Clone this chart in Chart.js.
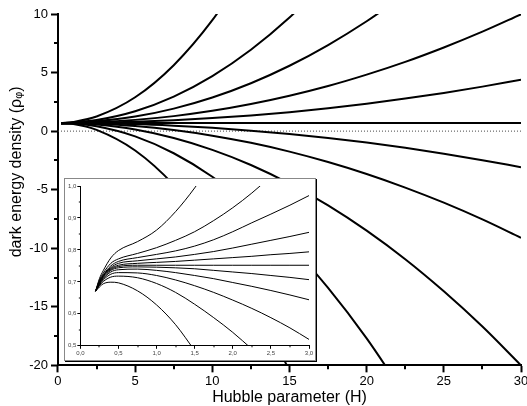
<!DOCTYPE html>
<html>
<head>
<meta charset="utf-8">
<script src="https://cdn.jsdelivr.net/npm/chart.js@4"></script>
<style>
  html, body { margin: 0; padding: 0; background: #fff; overflow: hidden; }
  #wrap { position: relative; width: 527px; height: 406px; overflow: hidden; }
  #main { position: absolute; left: 0; top: 0; }
  #insetBox { position: absolute; left: 64px; top: 178px; width: 250px; height: 181px;
              background: #fff; border: 1px solid #888; box-shadow: 1px 1px 0 #000; }
</style>
</head>
<body>
<div id="wrap">
  <canvas id="main" width="545" height="406"></canvas>
  <div id="insetBox"><canvas id="inset" width="250" height="181"></canvas></div>
</div>
<script>
// main panel: H values and rho_phi for each curve (top to bottom)
const mainH = [0.2, 1, 2.5, 5, 7.5, 10, 12.5, 15, 17.5, 20, 22.5, 25, 27.5, 30];
const rho1  = [0.67, 0.79, 1.25, 2.89, 5.63, 9.47, 14.4, null, null, null, null, null, null, null];
const rho2  = [0.67, 0.74, 0.95, 1.70, 2.95, 4.70, 6.95, 9.70, 12.95, null, null, null, null, null];
const rho3  = [0.67, 0.72, 0.84, 1.24, 1.92, 2.87, 4.09, 5.58, 7.35, 9.38, 11.69, null, null, null];
const rho4  = [0.67, 0.71, 0.76, 0.96, 1.28, 1.73, 2.31, 3.02, 3.85, 4.82, 5.91, 7.14, 8.49, 9.97];
const rho5  = [0.67, 0.70, 0.73, 0.80, 0.93, 1.11, 1.34, 1.62, 1.96, 2.34, 2.78, 3.26, 3.80, 4.39];
const rho6  = [0.67, 0.70, 0.70, 0.70, 0.70, 0.70, 0.70, 0.70, 0.70, 0.70, 0.70, 0.70, 0.70, 0.70];
const rho7  = [0.67, 0.70, 0.67, 0.60, 0.46, 0.28, 0.04, -0.25, -0.59, -0.98, -1.43, -1.93, -2.48, -3.08];
const rho8  = [0.67, 0.69, 0.63, 0.43, 0.09, -0.39, -1.00, -1.75, -2.64, -3.66, -4.82, -6.11, -7.54, -9.11];
const rho9  = [0.67, 0.68, 0.56, 0.13, -0.59, -1.60, -2.89, -4.48, -6.34, -8.50, -10.94, -13.68, -16.69, -20.00];
const rho10 = [0.67, 0.65, 0.41, -0.45, -1.89, -3.90, -6.49, -9.65, -13.39, -17.70, -22.59, null, null, null];
const rho11 = [0.67, 0.61, 0.11, -1.65, -4.59, -8.70, -13.99, -20.45, null, null, null, null, null, null];
const mainCurves = [rho1, rho2, rho3, rho4, rho5, rho6, rho7, rho8, rho9, rho10, rho11];

// inset panel: small H
const insetH = [0.2, 0.25, 0.3, 0.4, 0.5, 0.75, 1.0, 1.25, 1.5, 1.75, 2.0, 2.25, 2.5, 2.75, 3.0];
const inA = [0.671, 0.710, 0.735, 0.775, 0.798, 0.826, 0.862, 0.920, 0.994, 1.080, null, null, null, null, null];
const inB = [0.671, 0.705, 0.727, 0.758, 0.772, 0.789, 0.807, 0.830, 0.857, 0.892, 0.932, 0.978, 1.030, null, null];
const inC = [0.671, 0.703, 0.722, 0.750, 0.764, 0.776, 0.786, 0.797, 0.812, 0.832, 0.857, 0.885, 0.912, 0.940, 0.970];
const inD = [0.671, 0.700, 0.720, 0.745, 0.758, 0.766, 0.772, 0.778, 0.786, 0.795, 0.806, 0.818, 0.830, 0.842, 0.855];
const inE = [0.671, 0.698, 0.718, 0.742, 0.752, 0.758, 0.761, 0.764, 0.768, 0.772, 0.776, 0.780, 0.785, 0.789, 0.794];
const inF = [0.671, 0.696, 0.716, 0.739, 0.748, 0.752, 0.752, 0.752, 0.752, 0.752, 0.752, 0.752, 0.752, 0.752, 0.752];
const inG = [0.671, 0.694, 0.713, 0.736, 0.744, 0.747, 0.746, 0.744, 0.741, 0.736, 0.731, 0.726, 0.720, 0.714, 0.707];
const inH = [0.671, 0.692, 0.710, 0.731, 0.738, 0.740, 0.736, 0.729, 0.720, 0.710, 0.698, 0.686, 0.673, 0.659, 0.644];
const inI = [0.671, 0.690, 0.706, 0.724, 0.729, 0.728, 0.720, 0.706, 0.688, 0.667, 0.643, 0.617, 0.588, 0.556, 0.520];
const inJ = [0.671, 0.688, 0.701, 0.715, 0.718, 0.713, 0.695, 0.667, 0.630, 0.588, 0.542, 0.490, null, null, null];
const inK = [0.671, 0.684, 0.694, 0.699, 0.697, 0.672, 0.628, 0.566, 0.485, null, null, null, null, null, null];
const insetCurves = [inA, inB, inC, inD, inE, inF, inG, inH, inI, inJ, inK];

const FONT = 'Liberation Sans, Arial, Helvetica, sans-serif';

function toPoints(xs, ys) {
  return xs.map((x, i) => ({ x: x, y: ys[i] }));
}

// draws the short unlabeled ticks between the labeled ones
const minorTicks = {
  id: 'minorTicks',
  afterDraw(chart, args, opts) {
    const ctx = chart.ctx;
    const xs = chart.scales.x, ys = chart.scales.y;
    ctx.save();
    ctx.strokeStyle = '#000';
    ctx.lineWidth = opts.width;
    xs.ticks.forEach(t => {
      if (t.label !== '') return;
      const px = Math.round(xs.getPixelForValue(t.value));
      ctx.beginPath(); ctx.moveTo(px, xs.top); ctx.lineTo(px, xs.top + opts.len); ctx.stroke();
    });
    ys.ticks.forEach(t => {
      if (t.label !== '') return;
      const py = Math.round(ys.getPixelForValue(t.value));
      ctx.beginPath(); ctx.moveTo(ys.right, py); ctx.lineTo(ys.right - opts.len, py); ctx.stroke();
    });
    ctx.restore();
  }
};

const majorOnly = c => (c.tick && c.tick.label === '') ? 'rgba(0,0,0,0)' : '#000';

const mainSets = mainCurves.map(ys => ({
  data: toPoints(mainH, ys),
  borderColor: '#000', borderWidth: 2, pointRadius: 0,
  cubicInterpolationMode: 'monotone', fill: false
}));
mainSets.push({
  data: [{ x: 0, y: 0 }, { x: 30, y: 0 }],
  borderColor: '#444', borderWidth: 1, borderDash: [1, 2], pointRadius: 0, fill: false
});

new Chart(document.getElementById('main'), {
  type: 'line',
  data: { datasets: mainSets },
  options: {
    responsive: false,
    animation: false,
    layout: { padding: { left: 0, right: 24, top: 14, bottom: 0 } },
    plugins: { legend: { display: false }, tooltip: { enabled: false }, minorTicks: { len: 4, width: 2 } },
    scales: {
      x: {
        type: 'linear', min: 0, max: 30,
        border: { color: '#000', width: 2 },
        grid: { drawOnChartArea: false, tickLength: 7, tickWidth: 2, tickColor: majorOnly },
        ticks: {
          stepSize: 2.5, autoSkip: false, maxRotation: 0, padding: 2, color: '#000',
          font: { size: 13, family: FONT, lineHeight: 1.05 },
          callback: v => (v % 5 === 0 ? String(v) : '')
        },
        title: { display: true, text: 'Hubble parameter (H)', color: '#000',
                 font: { size: 16, family: FONT, lineHeight: 1.0 }, padding: { top: 0, bottom: 0 } }
      },
      y: {
        type: 'linear', min: -20, max: 10,
        border: { color: '#000', width: 2 },
        grid: { drawOnChartArea: false, tickLength: 7, tickWidth: 2, tickColor: majorOnly },
        ticks: {
          stepSize: 2.5, autoSkip: false, padding: 3, color: '#000',
          font: { size: 13, family: FONT },
          callback: v => (v % 5 === 0 ? String(v) : '')
        },
        title: { display: true, text: '        dark energy density (ρᵩ)', color: '#000',
                 font: { size: 16, family: FONT }, padding: { top: 7, bottom: 0 } }
      }
    }
  },
  plugins: [minorTicks]
});

const insetSets = insetCurves.map(ys => ({
  data: toPoints(insetH, ys),
  borderColor: '#000', borderWidth: 1, pointRadius: 0,
  cubicInterpolationMode: 'monotone', fill: false
}));

const comma = (v, d) => v.toFixed(d).replace('.', ',');

new Chart(document.getElementById('inset'), {
  type: 'line',
  data: { datasets: insetSets },
  options: {
    responsive: false,
    animation: false,
    layout: { padding: { left: 2, right: 6, top: 7, bottom: 2 } },
    plugins: { legend: { display: false }, tooltip: { enabled: false }, minorTicks: { len: 1.5, width: 1 } },
    scales: {
      x: {
        type: 'linear', min: 0, max: 3,
        border: { color: '#000', width: 1 },
        grid: { drawOnChartArea: false, tickLength: 3, tickWidth: 1, tickColor: majorOnly },
        ticks: {
          stepSize: 0.25, autoSkip: false, maxRotation: 0, padding: 1, color: '#444',
          font: { size: 6, family: FONT },
          callback: v => (Math.abs(v * 2 - Math.round(v * 2)) < 1e-6 ? comma(v, 1) : '')
        }
      },
      y: {
        type: 'linear', min: 0.5, max: 1.0,
        border: { color: '#000', width: 1 },
        grid: { drawOnChartArea: false, tickLength: 3, tickWidth: 1, tickColor: majorOnly },
        ticks: {
          stepSize: 0.05, autoSkip: false, padding: 1, color: '#444',
          font: { size: 6, family: FONT },
          callback: v => (Math.abs(v * 10 - Math.round(v * 10)) < 1e-6 ? comma(v, 1) : '')
        }
      }
    }
  },
  plugins: [minorTicks]
});
</script>
</body>
</html>
